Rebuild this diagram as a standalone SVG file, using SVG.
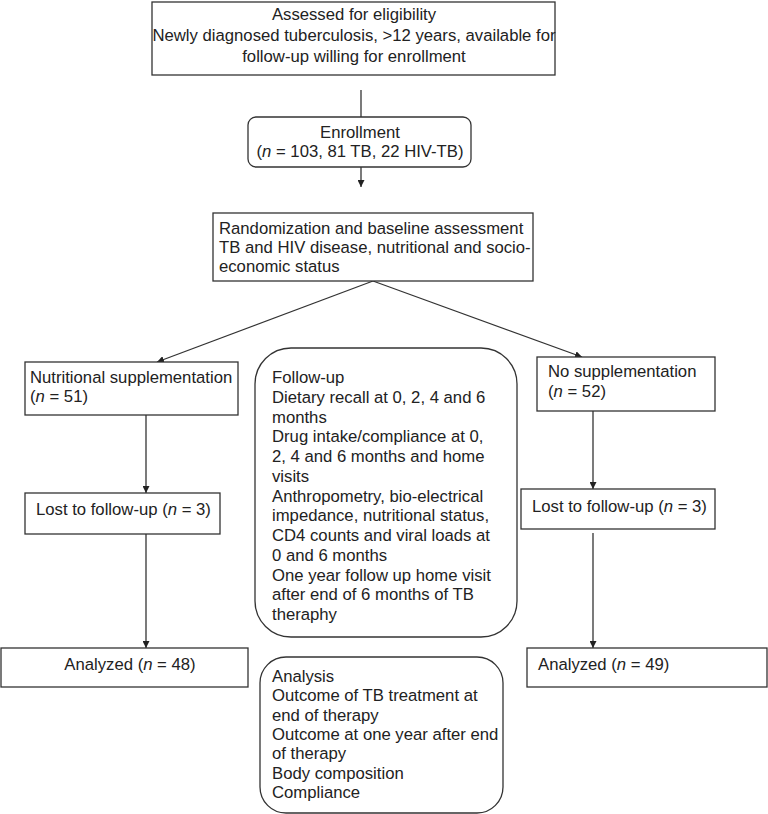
<svg xmlns="http://www.w3.org/2000/svg" width="768" height="814" viewBox="0 0 768 814">
<style>
.box{fill:#fff;stroke:#333;stroke-width:1.3}
.ln{fill:none;stroke:#333;stroke-width:1.3}
text{font-family:"Liberation Sans",Arial,sans-serif;font-size:16.7px;fill:#222}
.c{text-anchor:middle}
.i{font-style:italic}
</style>
<defs>
<marker id="ah" viewBox="0 0 10 10" refX="10" refY="5" markerWidth="7" markerHeight="7" markerUnits="userSpaceOnUse" orient="auto">
<path d="M0,0 L10,5 L0,10 z" fill="#222"/>
</marker>
</defs>
<rect width="768" height="814" fill="#fff"/>
<g id="connectors">
<line class="ln" x1="361" y1="90" x2="361" y2="117"/>
<line class="ln" x1="361" y1="167" x2="361" y2="187" marker-end="url(#ah)"/>
<line class="ln" x1="373" y1="281" x2="157" y2="362" marker-end="url(#ah)"/>
<line class="ln" x1="373" y1="281" x2="582" y2="357" marker-end="url(#ah)"/>
<line class="ln" x1="146" y1="415" x2="146" y2="493" marker-end="url(#ah)"/>
<line class="ln" x1="146" y1="534" x2="146" y2="648" marker-end="url(#ah)"/>
<line class="ln" x1="593" y1="411" x2="593" y2="489" marker-end="url(#ah)"/>
<line class="ln" x1="593" y1="533" x2="593" y2="648" marker-end="url(#ah)"/>
</g>
<g id="eligibility">
<rect class="box" x="152" y="2" width="403" height="73"/>
<text class="c" x="354" y="20">Assessed for eligibility</text>
<text class="c" x="354" y="41">Newly diagnosed tuberculosis, &gt;12 years, available for</text>
<text class="c" x="354" y="62">follow-up willing for enrollment</text>
</g>
<g id="enrollment">
<rect class="box" x="248" y="117" width="223" height="50" rx="8"/>
<text class="c" x="360" y="138">Enrollment</text>
<text class="c" x="360" y="157">(<tspan class="i">n</tspan> = 103, 81 TB, 22 HIV-TB)</text>
</g>
<g id="randomization">
<rect class="box" x="213" y="213" width="320" height="68"/>
<text x="219" y="234">Randomization and baseline assessment</text>
<text x="219" y="253">TB and HIV disease, nutritional and socio-</text>
<text x="219" y="272">economic status</text>
</g>
<g id="nutritional">
<rect class="box" x="25" y="362" width="213" height="53"/>
<text x="30" y="383">Nutritional supplementation</text>
<text x="30" y="402">(<tspan class="i">n</tspan> = 51)</text>
</g>
<g id="nosupp">
<rect class="box" x="537" y="357" width="178" height="54"/>
<text x="548" y="377">No supplementation</text>
<text x="548" y="397">(<tspan class="i">n</tspan> = 52)</text>
</g>
<g id="lost-left">
<rect class="box" x="25" y="493" width="195" height="41"/>
<text x="36" y="515">Lost to follow-up (<tspan class="i">n</tspan> = 3)</text>
</g>
<g id="lost-right">
<rect class="box" x="521" y="489" width="194" height="40"/>
<text x="532" y="512">Lost to follow-up (<tspan class="i">n</tspan> = 3)</text>
</g>
<g id="analyzed-left">
<rect class="box" x="1" y="648" width="247" height="39"/>
<text class="c" x="130" y="670">Analyzed (<tspan class="i">n</tspan> = 48)</text>
</g>
<g id="analyzed-right">
<rect class="box" x="527" y="648" width="240" height="39"/>
<text x="538" y="670">Analyzed (<tspan class="i">n</tspan> = 49)</text>
</g>
<g id="followup">
<rect class="box" x="255" y="348" width="262" height="289" rx="36"/>
<text x="272" y="383">Follow-up</text>
<text x="272" y="402.8">Dietary recall at 0, 2, 4 and 6</text>
<text x="272" y="422.5">months</text>
<text x="272" y="442.3">Drug intake/compliance at 0,</text>
<text x="272" y="462">2, 4 and 6 months and home</text>
<text x="272" y="481.8">visits</text>
<text x="272" y="501.5">Anthropometry, bio-electrical</text>
<text x="272" y="521.3">impedance, nutritional status,</text>
<text x="272" y="541">CD4 counts and viral loads at</text>
<text x="272" y="560.8">0 and 6 months</text>
<text x="272" y="580.5">One year follow up home visit</text>
<text x="272" y="600.3">after end of 6 months of TB</text>
<text x="272" y="620">theraphy</text>
</g>
<g id="analysis">
<rect class="box" x="260" y="657" width="243" height="156" rx="26"/>
<text x="272" y="682">Analysis</text>
<text x="272" y="701.3">Outcome of TB treatment at</text>
<text x="272" y="720.7">end of therapy</text>
<text x="272" y="740">Outcome at one year after end</text>
<text x="272" y="759.3">of therapy</text>
<text x="272" y="778.7">Body composition</text>
<text x="272" y="798">Compliance</text>
</g>
</svg>
